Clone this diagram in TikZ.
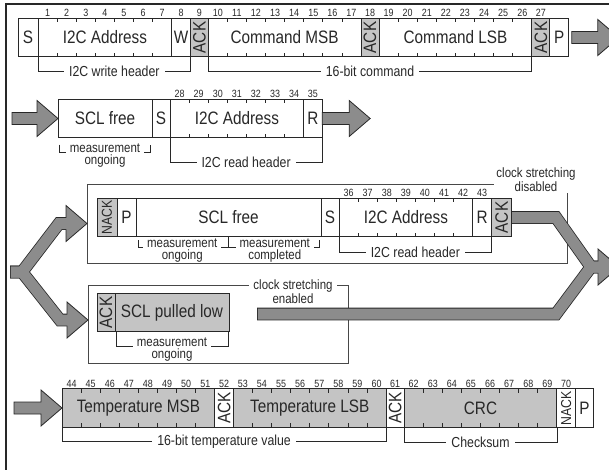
\documentclass[tikz,border=0pt]{standalone}
\usepackage{fontspec}
\setmainfont{Liberation Sans}[FakeStretch=0.85]
\usetikzlibrary{positioning,calc}
\definecolor{cellgray}{RGB}{196,196,196}
\definecolor{arrowgray}{RGB}{140,140,140}
\definecolor{inkgray}{RGB}{40,40,40}

\newcommand{\fieldfont}{\fontsize{18}{20}\selectfont}
\newcommand{\nackfont}{\fontsize{14.4}{16}\selectfont}
\newcommand{\numfont}{\fontsize{10.5}{11}\selectfont}
\newcommand{\brkfont}{\fontsize{14.5}{16}\selectfont}
\newcommand{\measfont}{\fontsize{13.5}{11.5}\selectfont}
\newcommand{\clockfont}{\fontsize{13.5}{12}\selectfont}
\newcommand{\vtext}[1]{\rotatebox{90}{#1}}

% tick marks on the bit borders of a field
\newcommand{\bitticks}[2]{%
  \pgfmathtruncatemacro{\lastbit}{#2-1}%
  \foreach \i in {1,...,\lastbit}{%
    \draw[tick] ($(#1.north west)!\i/#2!(#1.north east)$) -- ++(0,4);
    \draw[tick] ($(#1.south west)!\i/#2!(#1.south east)$) -- ++(0,-4);
  }}
% bit numbers over a field
\newcommand{\bitnums}[3]{%
  \foreach \i [evaluate=\i as \f using (\i-0.5)/#2,
               evaluate=\i as \bn using int(#3+\i-1)] in {1,...,#2}{%
    \node[bitnum] (bit\bn) at ($(#1.north west)!\f!(#1.north east)$) {\bn};
  }}
% flat grey arrow: start, shaft length
\newcommand{\flowarrow}[2]{%
  \draw[bigarr] #1 ++(0,-6) -- ++(#2,0) -- ++(0,-12) -- ++(21,18)
    -- ++(-21,18) -- ++(0,-12) -- ++(-#2,0) -- cycle;}

\begin{document}
\begin{tikzpicture}[x=1pt, y=-1pt,
    cell/.style={draw=inkgray, line width=0.9pt, minimum height=38.5pt, inner sep=0pt,
                 outer sep=0pt, anchor=west, font=\fieldfont, text=inkgray},
    gcell/.style={cell, fill=cellgray},
    bitnum/.style={anchor=base, inner sep=0pt, yshift=1.5pt, font=\numfont, text=inkgray},
    tick/.style={draw=inkgray, line width=0.7pt},
    brk/.style={draw=inkgray, line width=0.7pt},
    brklbl/.style={fill=white, inner xsep=5pt, inner ysep=2pt, font=\brkfont, text=inkgray},
    twolbl/.style={fill=white, inner xsep=4pt, inner ysep=1pt, align=center, anchor=north,
                   font=\measfont, text=inkgray},
    frame/.style={draw=inkgray!85, line width=0.8pt, anchor=north west,
                  inner sep=0pt, outer sep=0pt},
    bigarr/.style={draw=inkgray, line width=0.8pt, fill=arrowgray, line join=miter},
    shaftout/.style={draw=inkgray, line width=12.6pt, line join=miter},
    shaftin/.style={draw=arrowgray, line width=11pt, line join=miter}
]
\useasboundingbox (0,0) rectangle (609,470);
\clip (0,0) rectangle (609,470);
\fill[white] (0,0) rectangle (609,470);
\draw[inkgray, line width=1.6pt] (6,470) -- (6,4) -- (609,4);

% write header and command
\node[cell, minimum width=20pt] (s1) at (18,37.5) {S};
\node[cell, minimum width=7*19.1pt, right=0pt of s1] (addr1) {I2C Address};
\node[cell, minimum width=19pt, right=0pt of addr1] (w1) {W};
\node[gcell, minimum width=17.5pt, right=0pt of w1] (ack1) {\vtext{ACK}};
\node[cell, minimum width=8*19.1pt, right=0pt of ack1] (msb1) {Command MSB};
\node[gcell, minimum width=18pt, right=0pt of msb1] (ack2) {\vtext{ACK}};
\node[cell, minimum width=8*19.1pt, right=0pt of ack2] (lsb1) {Command LSB};
\node[gcell, minimum width=18pt, right=0pt of lsb1] (ack3) {\vtext{ACK}};
\node[cell, minimum width=19pt, right=0pt of ack3] (p1) {P};

\bitticks{addr1}{7} \bitticks{msb1}{8} \bitticks{lsb1}{8}
\bitnums{addr1}{7}{1} \bitnums{w1}{1}{8} \bitnums{ack1}{1}{9}
\bitnums{msb1}{8}{10} \bitnums{ack2}{1}{18} \bitnums{lsb1}{8}{19} \bitnums{ack3}{1}{27}

\draw[brk] (addr1.south west) -- ++(0,15) -| (w1.south east);
\node[brklbl] (hdrw) at ($(addr1.south west)!0.5!(w1.south east)+(0,15)$) {I2C write header};
\draw[brk] (msb1.south west) -- ++(0,15) -| (lsb1.south east);
\node[brklbl] (cmd) at ($(msb1.south west)!0.5!(lsb1.south east)+(0,15)$) {16-bit command};
\flowarrow{($(p1.east)+(3,0)$)}{26}

% read header
\node[cell, minimum width=94pt] (scl2) at (58,118.5) {SCL free};
\node[cell, minimum width=18pt, right=0pt of scl2] (s2) {S};
\node[cell, minimum width=7*19.1pt, right=0pt of s2] (addr2) {I2C Address};
\node[cell, minimum width=18.5pt, right=0pt of addr2] (r2) {R};

\bitticks{addr2}{7}
\bitnums{addr2}{7}{28} \bitnums{r2}{1}{35}

\draw[brk] ($(scl2.south west)+(1.5,7)$) -- ++(0,8) -| ($(scl2.south east)+(-1.5,7)$);
\node[twolbl] (meas2) at ($(scl2.south)+(0,5.3)$) {measurement\\ongoing};
\draw[brk] (addr2.south west) -- ++(0,25) -| (r2.south east);
\node[brklbl] (hdrr2) at ($(addr2.south west)!0.5!(r2.south east)+(0,25)$) {I2C read header};
\flowarrow{($(scl2.west)+(-46,0)$)}{25}
\flowarrow{(r2.east)}{27}

% measurement not ready: NACK, then poll again
\node[frame, minimum width=480pt, minimum height=79pt] (grp3) at (87,184) {};
\node[twolbl, font=\clockfont, inner xsep=2pt] (csd) at (536,167) {clock stretching\\disabled};
\node[gcell, minimum width=20pt] (nack3) at (97,217.5) {\nackfont\vtext{NACK}};
\node[cell, minimum width=19pt, right=0pt of nack3] (p3) {P};
\node[cell, minimum width=185pt, right=0pt of p3] (scl3) {SCL free};
\node[cell, minimum width=18pt, right=0pt of scl3] (s3) {S};
\node[cell, minimum width=7*19.1pt, right=0pt of s3] (addr3) {I2C Address};
\node[cell, minimum width=19pt, right=0pt of addr3] (r3) {R};
\node[gcell, minimum width=20pt, right=0pt of r3] (ack4) {\vtext{ACK}};

\bitticks{addr3}{7}
\bitnums{addr3}{7}{36} \bitnums{r3}{1}{43}

\draw[brk] ($(scl3.south west)+(2,3.5)$) -- ++(0,7) -- ($(scl3.south east)+(-1.5,10.5)$) -- ++(0,-7);
\draw[brk] (scl3.south) -- ++(0,10.5);
\node[twolbl] (meas3a) at ($(scl3.south west)!0.25!(scl3.south east)+(0,1)$) {measurement\\ongoing};
\node[twolbl] (meas3b) at ($(scl3.south west)!0.75!(scl3.south east)+(0,1)$) {measurement\\completed};
\draw[brk] (addr3.south west) -- ++(0,16) -| (r3.south east);
\node[brklbl] (hdrr3) at ($(addr3.south west)!0.5!(r3.south east)+(0,16)$) {I2C read header};

% clock stretching: SCL held low
\node[frame, minimum width=260pt, minimum height=78pt] (grp4) at (88,285) {};
\node[twolbl, font=\clockfont] (cse) at (293,279) {clock stretching\\enabled};
\node[gcell, minimum width=18pt] (ack5) at (97,312.5) {\vtext{ACK}};
\node[gcell, minimum width=114pt, right=0pt of ack5] (slow4) {SCL pulled low};
\draw[brk] (slow4.south west) ++(1,0) -- ++(0,15) -| ($(slow4.south east)+(-1,0)$);
\node[twolbl] (meas4) at ($(slow4.south)+(0,5)$) {measurement\\ongoing};

% split into the two cases
\coordinate (splitin) at (10,272);
\coordinate (split) at (22,272);
\coordinate (tip3) at (grp3.west);
\coordinate (tip4) at ($(grp4.west)+(0,-4)$);
\draw[shaftout] (splitin) -- (split) -- ($(tip3)+(-28,0)$) -- ($(tip3)+(-21,0)$);
\draw[shaftout] (splitin) -- (split) -- ($(tip4)+(-28,0)$) -- ($(tip4)+(-21,0)$);
\draw[bigarr] (tip3) -- ++(-21,-18) -- ++(0,36) -- cycle;
\draw[bigarr] (tip4) -- ++(-21,-18) -- ++(0,36) -- cycle;
\draw[shaftin] ($(splitin)+(0.8,0)$) -- (split) -- ($(tip3)+(-28,0)$) -- ($(tip3)+(-20,0)$);
\draw[shaftin] ($(splitin)+(0.8,0)$) -- (split) -- ($(tip4)+(-28,0)$) -- ($(tip4)+(-20,0)$);

% both cases join again
\coordinate (holdbar) at (257,314);
\coordinate (join) at (591,267);
\coordinate (endtip) at (619,267);
\draw[shaftout] (ack4.east) -- (556,217.5) -- (join) -- ($(endtip)+(-21,0)$);
\draw[shaftout] (holdbar) -- (556,314) -- (join) -- ($(endtip)+(-21,0)$);
\draw[bigarr] (endtip) -- ++(-21,-18) -- ++(0,36) -- cycle;
\draw[shaftin] ($(ack4.east)+(0.5,0)$) -- (556,217.5) -- (join) -- ($(endtip)+(-20,0)$);
\draw[shaftin] ($(holdbar)+(0.8,0)$) -- (556,314) -- (join) -- ($(endtip)+(-20,0)$);

% temperature and checksum
\node[gcell, minimum width=8*19.1pt] (tmsb) at (62,408) {Temperature MSB};
\node[cell, minimum width=18.5pt, right=0pt of tmsb] (ack6) {\vtext{ACK}};
\node[gcell, minimum width=8*19.1pt, right=0pt of ack6] (tlsb) {Temperature LSB};
\node[cell, minimum width=18pt, right=0pt of tlsb] (ack7) {\vtext{ACK}};
\node[gcell, minimum width=8*19.1pt, right=0pt of ack7] (crc) {CRC};
\node[cell, minimum width=18.5pt, right=0pt of crc] (nack5) {\nackfont\vtext{NACK}};
\node[cell, minimum width=18pt, right=0pt of nack5] (p5) {P};

\bitticks{tmsb}{8} \bitticks{tlsb}{8} \bitticks{crc}{8}
\bitnums{tmsb}{8}{44} \bitnums{ack6}{1}{52} \bitnums{tlsb}{8}{53}
\bitnums{ack7}{1}{61} \bitnums{crc}{8}{62} \bitnums{nack5}{1}{70}

\draw[brk] (tmsb.south west) -- ++(0,14) -| (tlsb.south east);
\node[brklbl] (tval) at ($(tmsb.south west)!0.5!(tlsb.south east)+(0,14)$) {16-bit temperature value};
\draw[brk] (crc.south west) -- ++(0,15) -| (crc.south east);
\node[brklbl] (chk) at ($(crc.south west)!0.5!(crc.south east)+(0,15)$) {Checksum};
\flowarrow{($(tmsb.west)+(-48,0)$)}{27}

\end{tikzpicture}
\end{document}
